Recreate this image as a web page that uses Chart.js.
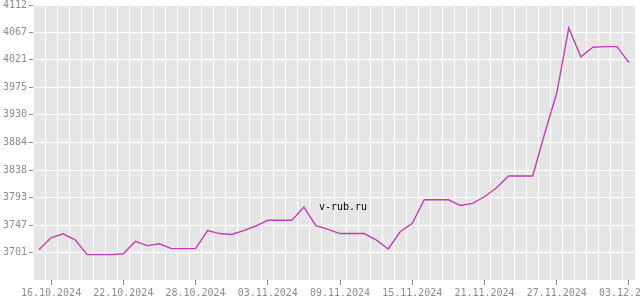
<!DOCTYPE html>
<html>
<head>
<meta charset="utf-8">
<script src="https://cdn.jsdelivr.net/npm/chart.js@4/dist/chart.umd.min.js"></script>
<style>
  html, body { margin: 0; padding: 0; background: #fff; }
  #wrap { width: 640px; height: 300px; }
</style>
</head>
<body>
<div id="wrap"><canvas id="rateChart" width="640" height="300"></canvas></div>
<script>
const dates = [
  '15.10.2024', '16.10.2024', '17.10.2024', '18.10.2024', '19.10.2024', '20.10.2024', '21.10.2024',
  '22.10.2024', '23.10.2024', '24.10.2024', '25.10.2024', '26.10.2024', '27.10.2024', '28.10.2024',
  '29.10.2024', '30.10.2024', '31.10.2024', '01.11.2024', '02.11.2024', '03.11.2024', '04.11.2024',
  '05.11.2024', '06.11.2024', '07.11.2024', '08.11.2024', '09.11.2024', '10.11.2024', '11.11.2024',
  '12.11.2024', '13.11.2024', '14.11.2024', '15.11.2024', '16.11.2024', '17.11.2024', '18.11.2024',
  '19.11.2024', '20.11.2024', '21.11.2024', '22.11.2024', '23.11.2024', '24.11.2024', '25.11.2024',
  '26.11.2024', '27.11.2024', '28.11.2024', '29.11.2024', '30.11.2024', '01.12.2024', '02.12.2024',
  '03.12.2024'
];

const rates = [
  3706.5, 3726, 3732.5, 3722.5, 3698, 3698, 3698,
  3699.5, 3720, 3713, 3716, 3708, 3708, 3708,
  3738, 3733, 3731.5, 3738, 3745.5, 3755, 3755,
  3755, 3777, 3746, 3740, 3733, 3733, 3733,
  3722.5, 3707.5, 3736, 3750, 3789, 3789, 3789,
  3779.5, 3783, 3794, 3809, 3828.5, 3828.5, 3828.5,
  3899, 3966, 4074, 4026, 4042, 4043, 4043,
  4016.5
];

// dates that get a label under the axis
const shownDates = ['16.10.2024', '22.10.2024', '28.10.2024', '03.11.2024', '09.11.2024',
  '15.11.2024', '21.11.2024', '27.11.2024', '03.12.2024'];

const yTicks = [3701, 3747, 3793, 3838, 3884, 3930, 3975, 4021, 4067, 4112];
const yMin = 3656;
const yMax = 4112;

const tickFont = { family: 'DejaVu Sans Mono', size: 10 };
const tickGray = '#8c8c8c';

// grey plot background + watermark
const plotBg = {
  id: 'plotBg',
  beforeDraw(chart) {
    const { ctx, chartArea: a } = chart;
    ctx.save();
    ctx.fillStyle = '#e5e5e5';
    ctx.fillRect(a.left, a.top, a.right - a.left, a.bottom - a.top);
    ctx.restore();
  },
  afterDatasetsDraw(chart) {
    const { ctx } = chart;
    ctx.save();
    ctx.font = '10px "DejaVu Sans Mono"';
    ctx.fillStyle = '#000';
    ctx.textAlign = 'center';
    ctx.textBaseline = 'middle';
    ctx.fillText('v-rub.ru', 343, 207);
    ctx.restore();
  }
};

const ctx = document.getElementById('rateChart').getContext('2d');

const chart = new Chart(ctx, {
  type: 'line',
  data: {
    labels: dates,
    datasets: [{
      data: rates,
      borderColor: '#c23fb3',
      borderWidth: 1.4,
      pointRadius: 0,
      tension: 0,
      fill: false,
      xAxisID: 'x',
      yAxisID: 'y'
    }]
  },
  options: {
    responsive: false,
    animation: false,
    layout: { padding: { left: 0, top: 0, bottom: 0, right: 5 } },
    plugins: {
      legend: { display: false },
      tooltip: { enabled: false }
    },
    scales: {
      x: {
        type: 'category',
        position: 'bottom',
        offset: true,
        grid: { offset: true, color: '#ffffff', lineWidth: 1, drawTicks: false },
        border: { display: false },
        ticks: { display: false, autoSkip: false },
        afterFit(scale) { scale.height = 0; scale.paddingLeft = 0; scale.paddingRight = 0; }
      },
      x2: {
        type: 'category',
        position: 'bottom',
        labels: dates,
        offset: true,
        grid: {
          offset: false,
          drawOnChartArea: false,
          tickLength: 5,
          color: (c) => (c.tick && shownDates.includes(c.tick.label) ? tickGray : 'rgba(0,0,0,0)')
        },
        border: { display: false },
        ticks: {
          autoSkip: false,
          maxRotation: 0,
          padding: 2,
          color: tickGray,
          font: tickFont,
          callback(value, index) {
            const d = dates[index];
            return shownDates.includes(d) ? d : '';
          }
        },
        afterFit(scale) { scale.height = 20; scale.paddingLeft = 0; scale.paddingRight = 0; }
      },
      y: {
        min: yMin,
        max: yMax,
        afterBuildTicks(scale) { scale.ticks = yTicks.map(v => ({ value: v })); },
        grid: { color: '#ffffff', lineWidth: 1, tickLength: 4, drawTicks: true, tickColor: tickGray },
        border: { display: false },
        ticks: {
          color: tickGray,
          font: tickFont,
          padding: 2,
          callback: (v) => String(v)
        },
        afterFit(scale) { scale.width = 33; scale.paddingTop = 5; scale.paddingBottom = 0; }
      }
    }
  },
  plugins: [plotBg]
});
</script>
</body>
</html>
